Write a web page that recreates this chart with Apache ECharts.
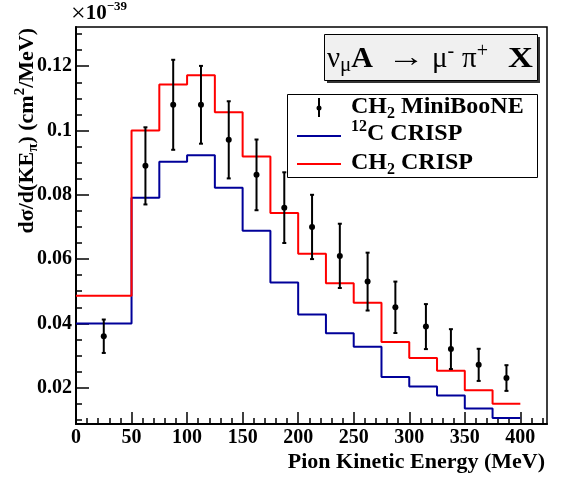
<!DOCTYPE html>
<html>
<head>
<meta charset="utf-8">
<script src="https://cdn.jsdelivr.net/npm/echarts@6/dist/echarts.min.js"></script>
<style>
  html, body { margin: 0; padding: 0; background: #fff; }
  #chart { width: 564px; height: 480px; }
</style>
</head>
<body>
<div id="chart"></div>
<script>
// Pion kinetic energy distribution, d sigma / d(KE_pi), in units of 1e-39 cm^2/MeV

// Histogram bin lower edges (MeV); last bin closes at histEnd
const binEdges = [0, 50, 75, 100, 125, 150, 175, 200, 225, 250, 275, 300, 325, 350, 375];
const histEnd = 400;

// CRISP predictions per bin
const crispCH2 = [0.0486, 0.1000, 0.1143, 0.1172, 0.1057, 0.0919, 0.0743, 0.0617, 0.0525, 0.0464, 0.0342, 0.0292, 0.0253, 0.0192, 0.0150];
const crispC12 = [0.0400, 0.0791, 0.0903, 0.0923, 0.0822, 0.0688, 0.0527, 0.0428, 0.0369, 0.0327, 0.0233, 0.0204, 0.0176, 0.0135, 0.0106];

// MiniBooNE CH2 measurement
const mbX   = [25, 62.5, 87.5, 112.5, 137.5, 162.5, 187.5, 212.5, 237.5, 262.5, 287.5, 315, 337.5, 362.5, 387.5];
const mbY   = [0.0360, 0.0890, 0.1080, 0.1080, 0.0971, 0.0862, 0.0760, 0.0700, 0.0610, 0.0530, 0.0450, 0.0390, 0.0320, 0.0271, 0.0230];
const mbErr = [0.0052, 0.0120, 0.0140, 0.0121, 0.0120, 0.0110, 0.0110, 0.0100, 0.0100, 0.0090, 0.0080, 0.0070, 0.0062, 0.0050, 0.0040];

// Axis ticks
const xMajor = [0, 50, 100, 150, 200, 250, 300, 350, 400];
const xMinor = [10, 20, 30, 40, 60, 70, 80, 90, 110, 120, 130, 140, 160, 170, 180, 190, 210, 220, 230, 240,
                260, 270, 280, 290, 310, 320, 330, 340, 360, 370, 380, 390, 410, 420];
const yMajor = [0.02, 0.04, 0.06, 0.08, 0.10, 0.12];
const yMinor = [0.010, 0.015, 0.025, 0.030, 0.035, 0.045, 0.050, 0.055, 0.065, 0.070, 0.075,
                0.085, 0.090, 0.095, 0.105, 0.110, 0.115, 0.125, 0.130];

const X_MIN = 0, X_MAX = 424;
const Y_MIN = 0.0087, Y_MAX = 0.1322;

const FONT = '"Liberation Serif", "Times New Roman", serif';
const RED = '#ff0000';
const BLUE = '#000099';

function histPoints(vals) {
  const pts = binEdges.map((x, i) => [x, vals[i]]);
  pts.push([histEnd, vals[vals.length - 1]]);
  return pts;
}

const chart = echarts.init(document.getElementById('chart'), null, { renderer: 'canvas' });

const labelStyle = { fontFamily: FONT, fontWeight: 'bold', fontSize: 20, color: '#000' };

function richBase(size, smallRatio) {
  const lh = Math.round(size * 1.25);
  const sm = Math.round(size * (smallRatio || 0.66));
  return {
    b:  { fontFamily: FONT, fontWeight: 'bold', fontSize: size, lineHeight: lh, fill: '#000' },
    r:  { fontFamily: FONT, fontWeight: 'normal', fontSize: size, lineHeight: lh, fill: '#000' },
    bs: { fontFamily: FONT, fontWeight: 'bold', fontSize: sm, lineHeight: sm, verticalAlign: 'bottom', fill: '#000' },
    bp: { fontFamily: FONT, fontWeight: 'bold', fontSize: sm, lineHeight: sm, verticalAlign: 'top', fill: '#000' },
    rs: { fontFamily: FONT, fontWeight: 'normal', fontSize: sm, lineHeight: sm, verticalAlign: 'bottom', fill: '#000' },
    rp: { fontFamily: FONT, fontWeight: 'normal', fontSize: sm, lineHeight: sm, verticalAlign: 'top', fill: '#000' }
  };
}

// Reaction label, placed piece by piece inside its box
const reactionRich = {
  r:  { fontFamily: FONT, fontSize: 29, lineHeight: 34, fill: '#000' },
  b:  { fontFamily: FONT, fontWeight: 'bold', fontSize: 30, lineHeight: 34, fill: '#000' },
  rs: { fontFamily: FONT, fontSize: 21, lineHeight: 18, verticalAlign: 'bottom', fill: '#000' },
  rp: { fontFamily: FONT, fontSize: 20, lineHeight: 20, verticalAlign: 'top', fill: '#000' }
};
function reactionPiece(x, text, align, sx) {
  return {
    type: 'text', x: x, y: 59, z: 11, scaleX: sx || 1,
    style: { text: text, align: align || 'left', verticalAlign: 'middle', rich: reactionRich }
  };
}

const option = {
  animation: false,
  backgroundColor: '#fff',
  grid: {
    left: 76, top: 27, width: 471, height: 397,
    show: true, borderColor: '#000', borderWidth: 1.5, backgroundColor: 'transparent'
  },
  xAxis: [
    {
      type: 'value', min: X_MIN, max: X_MAX, position: 'bottom',
      axisLine: { show: true, onZero: false, lineStyle: { color: '#000', width: 2 } },
      axisTick: { show: true, inside: true, length: 12, customValues: xMajor, lineStyle: { color: '#000', width: 1.5 } },
      axisLabel: { show: true, customValues: xMajor, margin: 4, ...labelStyle },
      splitLine: { show: false }
    },
    {
      type: 'value', min: X_MIN, max: X_MAX, position: 'bottom',
      axisLine: { show: false },
      axisTick: { show: true, inside: true, length: 6, customValues: xMinor, lineStyle: { color: '#000', width: 1.5 } },
      axisLabel: { show: false },
      splitLine: { show: false }
    }
  ],
  yAxis: [
    {
      type: 'value', min: Y_MIN, max: Y_MAX, position: 'left',
      axisLine: { show: true, onZero: false, lineStyle: { color: '#000', width: 2 } },
      axisTick: { show: true, inside: true, length: 13, customValues: yMajor, lineStyle: { color: '#000', width: 1.5 } },
      axisLabel: {
        show: true, customValues: yMajor, margin: 4, ...labelStyle,
        formatter: v => String(+v.toFixed(2))
      },
      splitLine: { show: false }
    },
    {
      type: 'value', min: Y_MIN, max: Y_MAX, position: 'left',
      axisLine: { show: false },
      axisTick: { show: true, inside: true, length: 6, customValues: yMinor, lineStyle: { color: '#000', width: 1.5 } },
      axisLabel: { show: false },
      splitLine: { show: false }
    }
  ],
  series: [
    {
      name: '12C CRISP', type: 'line', step: 'end', xAxisIndex: 0, yAxisIndex: 0,
      data: histPoints(crispC12), showSymbol: false, symbol: 'none',
      lineStyle: { color: BLUE, width: 2 }, z: 3
    },
    {
      name: 'CH2 CRISP', type: 'line', step: 'end', xAxisIndex: 0, yAxisIndex: 0,
      data: histPoints(crispCH2), showSymbol: false, symbol: 'none',
      lineStyle: { color: RED, width: 2 }, z: 4
    },
    {
      name: 'CH2 MiniBooNE', type: 'custom', xAxisIndex: 0, yAxisIndex: 0, z: 5,
      data: mbX.map((x, i) => [x, mbY[i], mbErr[i]]),
      renderItem: function (params, api) {
        const x = api.value(0), y = api.value(1), e = api.value(2);
        const c = api.coord([x, y]);
        const hi = api.coord([x, y + e]);
        const lo = api.coord([x, y - e]);
        const st = { stroke: '#000', lineWidth: 2 };
        return {
          type: 'group',
          children: [
            { type: 'line', shape: { x1: c[0], y1: hi[1], x2: c[0], y2: lo[1] }, style: st },
            { type: 'line', shape: { x1: c[0] - 2, y1: hi[1], x2: c[0] + 2, y2: hi[1] }, style: st },
            { type: 'line', shape: { x1: c[0] - 2, y1: lo[1], x2: c[0] + 2, y2: lo[1] }, style: st },
            { type: 'circle', shape: { cx: c[0], cy: c[1], r: 3 }, style: { fill: '#000' } }
          ]
        };
      }
    }
  ],
  graphic: [
    // axis multiplier
    {
      type: 'text', left: 71, top: 0, z: 10,
      style: {
        text: '{x|×}{b|10}{p|−39}',
        rich: {
          x: { fontFamily: FONT, fontSize: 26, lineHeight: 28, fill: '#000' },
          b: { fontFamily: FONT, fontWeight: 'bold', fontSize: 21, lineHeight: 28, fill: '#000' },
          p: { fontFamily: FONT, fontWeight: 'bold', fontSize: 13, lineHeight: 13, verticalAlign: 'top', fill: '#000' }
        }
      }
    },
    // x axis title
    {
      type: 'text', x: 545, y: 462, z: 10,
      style: {
        text: 'Pion Kinetic Energy (MeV)', align: 'right', verticalAlign: 'middle',
        fontFamily: FONT, fontWeight: 'bold', fontSize: 22, fill: '#000'
      }
    },
    // y axis title
    {
      type: 'text', x: 27, y: 28, rotation: Math.PI / 2, z: 10,
      style: {
        text: '{b|dσ/d(KE}{bs|π}{b|) (cm}{bp|2}{b|/MeV)}', align: 'right', verticalAlign: 'middle',
        rich: richBase(22)
      }
    },
    // reaction label box with shadow
    {
      type: 'rect', shape: { x: 327, y: 37, width: 213, height: 46 }, z: 9,
      style: { fill: '#333' }
    },
    {
      type: 'rect', shape: { x: 324.5, y: 34.5, width: 213, height: 46 }, z: 10,
      style: { fill: '#f0f0f0', stroke: '#000', lineWidth: 1 }
    },
    reactionPiece(327, '{r|ν}{rs|μ}{b|A}'),
    {
      type: 'text', x: 406, y: 59, z: 11, scaleX: 1.35,
      style: { text: '→', align: 'center', verticalAlign: 'middle', fontFamily: FONT, fontSize: 28, fill: '#000' }
    },
    reactionPiece(432, '{r|μ}{rp|-}'),
    reactionPiece(462, '{r|π}{rp|+}'),
    reactionPiece(533, '{b|X}', 'right', 1.15),
    // legend box
    {
      type: 'rect', shape: { x: 287.5, y: 94.5, width: 250, height: 83 }, z: 10,
      style: { fill: '#fff', stroke: '#000', lineWidth: 1 }
    },
    // legend: data marker with error bar
    { type: 'line', shape: { x1: 319, y1: 98, x2: 319, y2: 117 }, z: 11, style: { stroke: '#000', lineWidth: 2 } },
    { type: 'circle', shape: { cx: 319, cy: 108, r: 2.5 }, z: 11, style: { fill: '#000' } },
    // legend: model lines
    { type: 'line', shape: { x1: 297, y1: 136, x2: 341, y2: 136 }, z: 11, style: { stroke: BLUE, lineWidth: 2 } },
    { type: 'line', shape: { x1: 297, y1: 164, x2: 341, y2: 164 }, z: 11, style: { stroke: RED, lineWidth: 2 } },
    // legend labels
    {
      type: 'text', x: 351, y: 107, z: 11,
      style: { text: '{b|CH}{bs|2}{b| MiniBooNE}', align: 'left', verticalAlign: 'middle', rich: richBase(24) }
    },
    {
      type: 'text', x: 351, y: 134, z: 11,
      style: { text: '{bp|12}{b|C CRISP}', align: 'left', verticalAlign: 'middle', rich: richBase(24) }
    },
    {
      type: 'text', x: 351, y: 163, z: 11,
      style: { text: '{b|CH}{bs|2}{b| CRISP}', align: 'left', verticalAlign: 'middle', rich: richBase(24) }
    }
  ]
};

chart.setOption(option);
</script>
</body>
</html>
